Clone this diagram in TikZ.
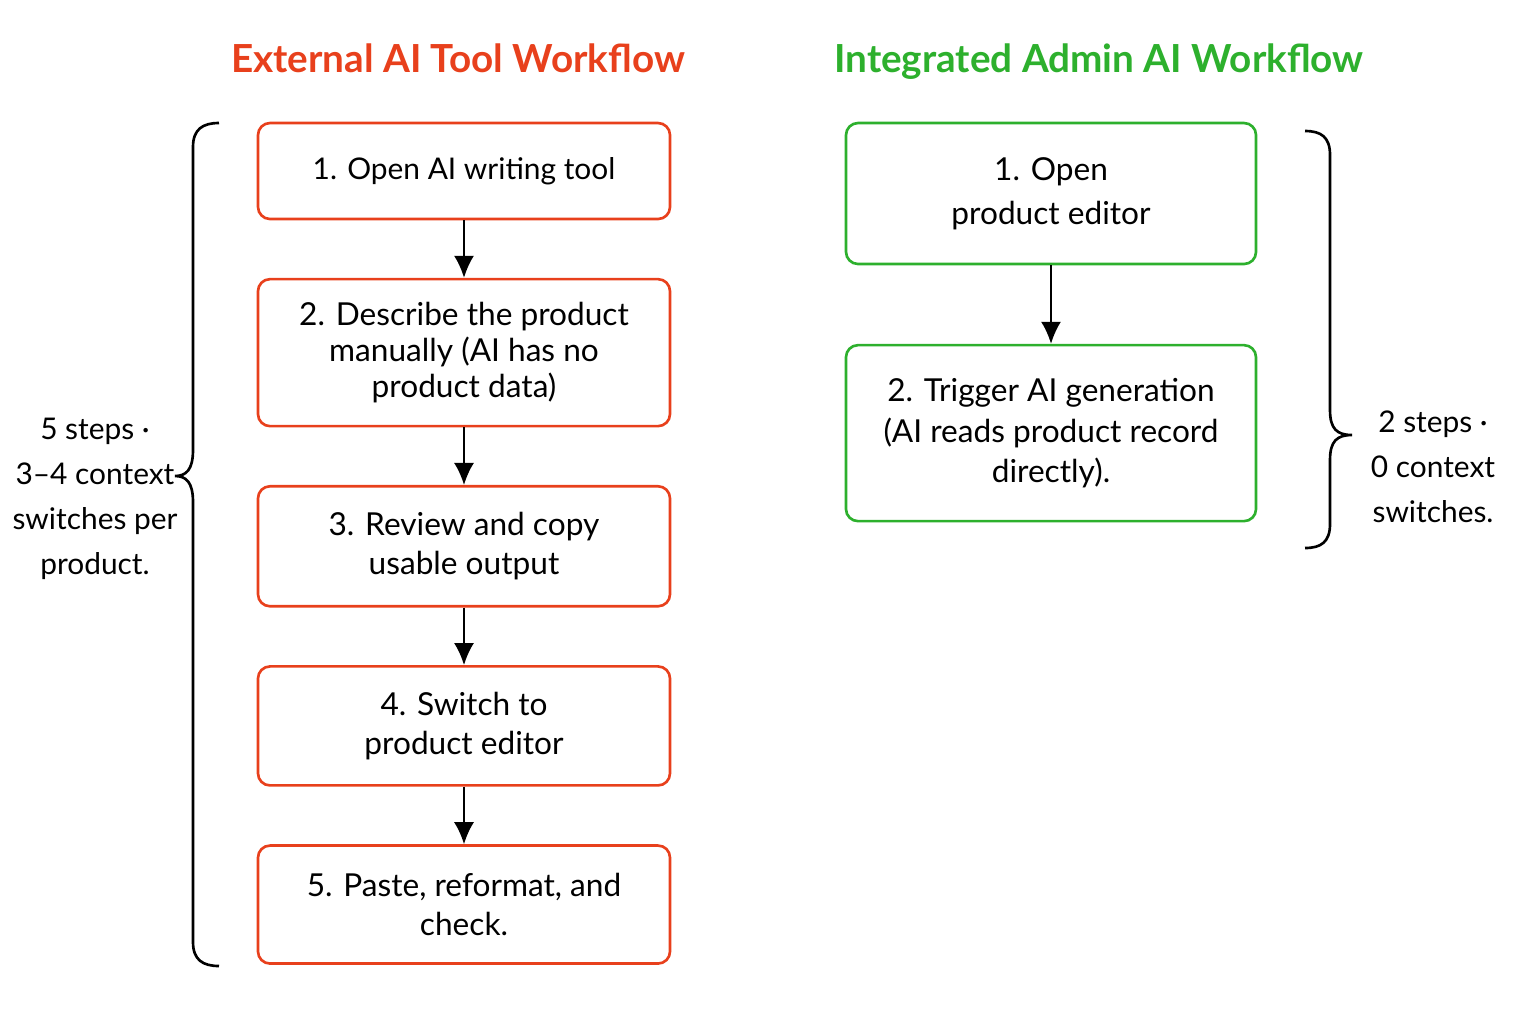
\documentclass[tikz,border=0pt]{standalone}
\usepackage{fontspec}
\setmainfont{Lato}
\usetikzlibrary{arrows.meta, positioning}
\definecolor{extred}{HTML}{E8401C}
\definecolor{intgreen}{HTML}{2DB02D}
\tikzset{
  extstep/.style={
    rectangle,
    rounded corners=0.12cm,
    draw=extred,
    line width=0.75pt,
    align=center,
    minimum width=4.12cm,
    inner sep=4pt,
    font=\fontsize{9}{11}\selectfont
  },
  intstep/.style={
    rectangle,
    rounded corners=0.12cm,
    draw=intgreen,
    line width=0.75pt,
    align=center,
    minimum width=4.10cm,
    inner sep=4pt,
    font=\fontsize{9}{11.4}\selectfont
  },
  heading/.style={anchor=base, font=\bfseries\fontsize{11}{13}\selectfont},
  note/.style={align=center, font=\fontsize{8.5}{12.8}\selectfont},
  arrow/.style={-{Latex[length=2.2mm, width=2mm]}, line width=0.6pt},
  curly/.style={line width=0.75pt}
}

\begin{document}
\begin{tikzpicture}[node distance=0.575cm]
  \useasboundingbox (0,0) rectangle (15.36,-10.24);

  \node[heading, text=extred] (exttitle) at (4.58,-0.72) {External AI Tool Workflow};
  \node[heading, text=intgreen] (inttitle) at (10.99,-0.72) {Integrated Admin AI Workflow};

  % external tool: five steps
  \node[extstep, minimum height=0.96cm, font=\fontsize{8.5}{11}\selectfont] (ext1) at (4.64,-1.71)
  {1. Open AI writing tool};
  \node[extstep, below=of ext1, minimum height=1.47cm, font=\fontsize{9}{10.2}\selectfont] (ext2)
  {2. Describe the product\\
   manually (AI has no\\
   product data)};
  \node[extstep, below=of ext2, minimum height=1.20cm] (ext3)
  {3. Review and copy\\
   usable output};
  \node[extstep, below=of ext3, minimum height=1.19cm] (ext4)
  {4. Switch to\\
   product editor};
  \node[extstep, below=of ext4, minimum height=1.18cm] (ext5)
  {5. Paste, reformat, and\\
   check.};

  % integrated: two steps
  \node[intstep, minimum height=1.41cm, font=\fontsize{9}{12.4}\selectfont] (int1) at (10.51,-1.935)
  {1. Open\\
   product editor};
  \node[intstep, below=0.785cm of int1, minimum height=1.76cm] (int2)
  {2. Trigger AI generation\\
   (AI reads product record\\
   directly).};

  \draw[arrow] (ext1) -- (ext2);
  \draw[arrow] (ext2) -- (ext3);
  \draw[arrow] (ext3) -- (ext4);
  \draw[arrow] (ext4) -- (ext5);
  \draw[arrow] (int1) -- (int2);

  % braces and counts
  \draw[curly] (2.19,-1.23) .. controls (2.03,-1.23) and (1.93,-1.29) .. (1.93,-1.47)
    -- (1.93,-4.50)
    .. controls (1.93,-4.70) and (1.86,-4.76) .. (1.75,-4.76)
    .. controls (1.86,-4.76) and (1.93,-4.82) .. (1.93,-5.02)
    -- (1.93,-9.42)
    .. controls (1.93,-9.60) and (2.03,-9.66) .. (2.19,-9.66);
  \draw[curly] (13.05,-1.31) .. controls (13.21,-1.31) and (13.30,-1.37) .. (13.30,-1.55)
    -- (13.30,-4.10)
    .. controls (13.30,-4.29) and (13.37,-4.35) .. (13.52,-4.35)
    .. controls (13.37,-4.35) and (13.30,-4.41) .. (13.30,-4.60)
    -- (13.30,-5.24)
    .. controls (13.30,-5.42) and (13.21,-5.48) .. (13.05,-5.48);

  \node[note] (extnote) at (0.95,-4.99)
  {5 steps ·\\
   3–4 context\\
   switches per\\
   product.};
  \node[note] (intnote) at (14.33,-4.67)
  {2 steps ·\\
   0 context\\
   switches.};
\end{tikzpicture}
\end{document}
